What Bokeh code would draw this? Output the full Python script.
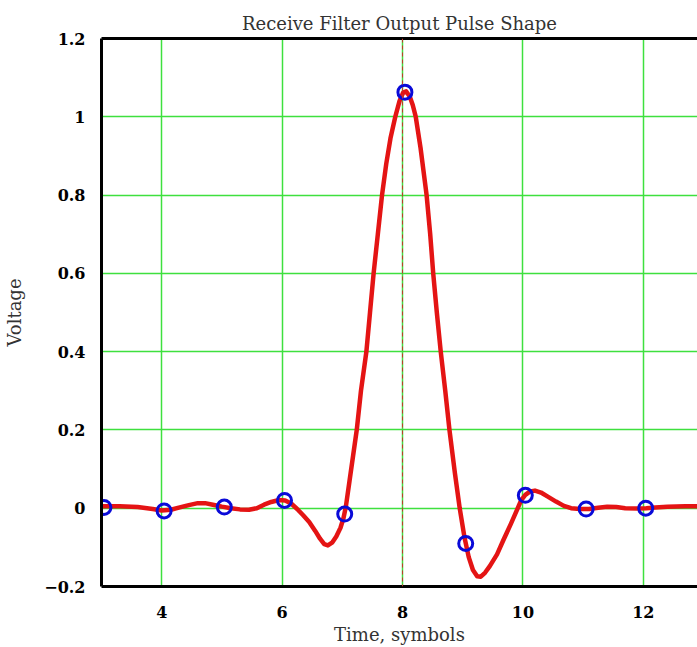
from bokeh.plotting import figure
from bokeh.models import Range1d, FixedTicker, LinearAxis, Span
from bokeh.embed import file_html
from bokeh.resources import INLINE

# Receive-filter output pulse, voltage against time in symbol periods
pulse_t = [3.00, 3.30, 3.60, 3.85, 4.00, 4.15, 4.30, 4.45, 4.60, 4.72, 4.85, 5.00,
           5.15, 5.30, 5.45, 5.58, 5.70, 5.82, 5.95, 6.05, 6.15, 6.25, 6.35, 6.45,
           6.55, 6.63, 6.70, 6.76, 6.83, 6.90, 6.97, 7.02, 7.06, 7.12, 7.18, 7.24,
           7.31, 7.40, 7.46, 7.52, 7.59, 7.66, 7.73, 7.80, 7.88, 7.95, 8.01, 8.06,
           8.12, 8.17, 8.22, 8.30, 8.40, 8.46, 8.51, 8.57, 8.635, 8.71, 8.78, 8.87,
           8.95, 9.03, 9.10, 9.17, 9.24, 9.30, 9.37, 9.45, 9.57, 9.68, 9.80, 9.90,
           9.97, 10.04, 10.12, 10.20, 10.30, 10.42, 10.55, 10.68, 10.80, 10.95, 11.10,
           11.25, 11.40, 11.55, 11.70, 11.90, 12.05, 12.20, 12.40, 12.70, 12.90]
pulse_v = [0.005, 0.005, 0.003, -0.002, -0.006, -0.004, 0.002, 0.008, 0.013, 0.013, 0.009, 0.004,
           0.000, -0.003, -0.004, 0.000, 0.009, 0.016, 0.021, 0.020, 0.012, -0.002, -0.018, -0.035,
           -0.058, -0.078, -0.092, -0.095, -0.088, -0.072, -0.050, -0.025, 0.005, 0.070, 0.135, 0.200,
           0.300, 0.400, 0.500, 0.600, 0.700, 0.800, 0.880, 0.945, 1.000, 1.040, 1.062, 1.065,
           1.052, 1.030, 1.000, 0.920, 0.800, 0.700, 0.600, 0.500, 0.400, 0.300, 0.200, 0.090,
           0.000, -0.075, -0.125, -0.158, -0.174, -0.175, -0.165, -0.148, -0.118, -0.080, -0.040, -0.005,
           0.020, 0.034, 0.043, 0.045, 0.040, 0.029, 0.017, 0.006, 0.000, -0.002, -0.002,
           0.001, 0.004, 0.003, 0.000, -0.001, 0.000, 0.002, 0.004, 0.005, 0.005]

# Values at the symbol sampling instants
sample_t = [3.04, 4.04, 5.04, 6.04, 7.04, 8.04, 9.05, 10.04, 11.05, 12.04]
sample_v = [0.002, -0.007, 0.003, 0.020, -0.015, 1.063, -0.090, 0.033, -0.002, 0.000]

x_ticks = [4, 6, 8, 10, 12]
y_ticks = [-0.2, 0.0, 0.2, 0.4, 0.6, 0.8, 1.0, 1.2]
y_tick_labels = ["\u22120.2", "0", "0.2", "0.4", "0.6", "0.8", "1", "1.2"]
sample_marker_time = 8

SERIF = "DejaVu Serif"
GRID_GREEN = "#3ee03e"

p = figure(width=697, height=647, output_backend="svg", toolbar_location=None,
           x_range=Range1d(3, 12.9), y_range=Range1d(-0.2, 1.2),
           title="Receive Filter Output Pulse Shape",
           min_border_left=101, min_border_right=0,
           min_border_top=38, min_border_bottom=60)
p.background_fill_color = "white"
p.border_fill_color = "white"
p.outline_line_color = None

p.title.align = "center"
p.title.text_font = SERIF
p.title.text_font_size = "18px"
p.title.text_font_style = "normal"
p.title.text_color = "#333333"

# grid
p.xgrid.ticker = FixedTicker(ticks=x_ticks)
p.ygrid.ticker = FixedTicker(ticks=y_ticks)
for g in (p.xgrid, p.ygrid):
    g.grid_line_color = GRID_GREEN
    g.grid_line_width = 1.5

# axes
p.xaxis.ticker = FixedTicker(ticks=x_ticks)
p.yaxis.ticker = FixedTicker(ticks=y_ticks)
p.yaxis.major_label_overrides = {t: s for t, s in zip(y_ticks, y_tick_labels)}
p.xaxis.axis_label = "Time, symbols"
p.yaxis.axis_label = "Voltage"
for ax in (p.xaxis[0], p.yaxis[0]):
    ax.axis_line_color = "black"
    ax.axis_line_width = 3
    ax.major_tick_line_color = None
    ax.minor_tick_line_color = None
    ax.major_label_text_font = SERIF
    ax.major_label_text_font_size = "16px"
    ax.major_label_text_font_style = "bold"
    ax.major_label_text_color = "black"
    ax.axis_label_text_font = SERIF
    ax.axis_label_text_font_size = "18px"
    ax.axis_label_text_font_style = "normal"
    ax.axis_label_text_color = "#333333"
p.xaxis.major_label_standoff = 13
p.xaxis.axis_label_standoff = 3
p.yaxis.major_label_standoff = 10
p.yaxis.axis_label_standoff = 16

top = LinearAxis(ticker=FixedTicker(ticks=[]), axis_line_color="black", axis_line_width=3,
                 major_tick_line_color=None, minor_tick_line_color=None)
p.add_layout(top, "above")

# sampling-instant marker
p.add_layout(Span(location=sample_marker_time, dimension="height",
                  line_color="#c0392b", line_dash="4 3", line_width=1))

p.line(pulse_t, pulse_v, line_color="#e41414", line_width=4.5,
       line_join="round", line_cap="round")
p.scatter(sample_t, sample_v, marker="circle", size=14, fill_color=None,
          line_color="#0a0ad8", line_width=3)

open("out.html", "w").write(file_html(p, INLINE))
